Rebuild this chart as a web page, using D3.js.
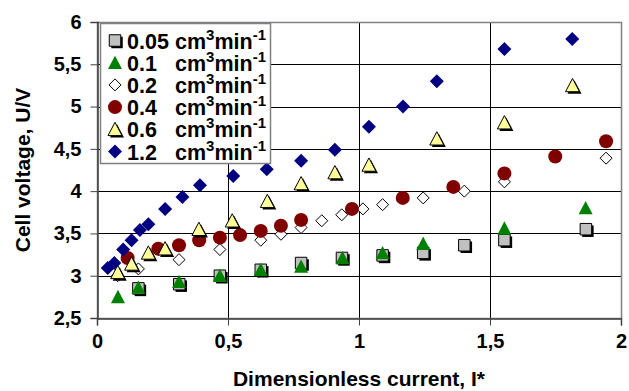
<!DOCTYPE html>
<html>
<head>
<meta charset="utf-8">
<script src="https://cdn.jsdelivr.net/npm/d3@7"></script>
<style>
  body { margin: 0; background: #fff; }
  svg { display: block; font-family: "Liberation Sans", Arial, sans-serif; font-weight: bold; }
</style>
</head>
<body>
<svg id="chart"></svg>
<script>
var W = 629, H = 391;
var margin = {top: 22, right: 8, bottom: 73, left: 97};
var w = W - margin.left - margin.right,
    h = H - margin.top - margin.bottom;

// data (I*, U/V)
var flowLabels = ["0.05", "0.1", "0.2", "0.4", "0.6", "1.2"];

var s005x = [0.158, 0.314, 0.469, 0.625, 0.779, 0.935, 1.090, 1.245, 1.402, 1.555, 1.866];
var s005y = [2.85, 2.90, 3.00, 3.07, 3.15, 3.21, 3.24, 3.27, 3.36, 3.42, 3.55];

var s01x = [0.080, 0.158, 0.313, 0.469, 0.625, 0.779, 0.937, 1.090, 1.245, 1.555, 1.865];
var s01y = [2.75, 2.86, 2.93, 3.00, 3.07, 3.11, 3.21, 3.27, 3.38, 3.56, 3.80];

var s02x = [0.079, 0.158, 0.313, 0.469, 0.625, 0.702, 0.779, 0.858, 0.934, 1.015, 1.090, 1.245, 1.402, 1.555, 1.943];
var s02y = [3.00, 3.08, 3.19, 3.31, 3.42, 3.49, 3.57, 3.65, 3.72, 3.79, 3.84, 3.92, 4.00, 4.11, 4.39];

var s04x = [0.117, 0.234, 0.313, 0.390, 0.469, 0.546, 0.625, 0.702, 0.779, 0.973, 1.167, 1.360, 1.555, 1.749, 1.943];
var s04y = [3.21, 3.32, 3.36, 3.42, 3.45, 3.48, 3.53, 3.59, 3.66, 3.79, 3.92, 4.05, 4.21, 4.41, 4.59];

var s06x = [0.079, 0.132, 0.196, 0.260, 0.389, 0.516, 0.650, 0.779, 0.908, 1.038, 1.297, 1.555, 1.815];
var s06y = [3.04, 3.14, 3.27, 3.32, 3.55, 3.65, 3.88, 4.09, 4.22, 4.31, 4.62, 4.81, 5.25];

var s12x = [0.041, 0.066, 0.100, 0.132, 0.164, 0.196, 0.260, 0.326, 0.393, 0.520, 0.648, 0.779, 0.908, 1.038, 1.168, 1.297, 1.555, 1.814];
var s12y = [3.09, 3.15, 3.31, 3.42, 3.54, 3.61, 3.79, 3.93, 4.07, 4.18, 4.26, 4.36, 4.49, 4.76, 5.00, 5.30, 5.68, 5.80];

var xTicks = [0, 0.5, 1, 1.5, 2];
var yTicks = [2.5, 3, 3.5, 4, 4.5, 5, 5.5, 6];

// marker shapes (path strings centred on 0,0)
function square(s) { return "M" + (-s/2) + "," + (-s/2) + "h" + s + "v" + s + "h" + (-s) + "Z"; }
function triangle(s) { return "M0," + (-s*0.5) + "L" + (s/2) + "," + (s*0.45) + "L" + (-s/2) + "," + (s*0.45) + "Z"; }
function diamond(s) { return "M0," + (-s/2) + "L" + (s/2) + ",0L0," + (s/2) + "L" + (-s/2) + ",0Z"; }
function circle(s) { var r = s/2; return "M" + (-r) + ",0A" + r + "," + r + " 0 1,1 " + r + ",0A" + r + "," + r + " 0 1,1 " + (-r) + ",0Z"; }

var series = [
  {label: flowLabels[0], xs: s005x, ys: s005y, path: square(11.5),  fill: "#c0c0c0", stroke: "#000", shadow: true},
  {label: flowLabels[1], xs: s01x,  ys: s01y,  path: triangle(14),  fill: "#008000", stroke: "none", shadow: false},
  {label: flowLabels[2], xs: s02x,  ys: s02y,  path: diamond(12),   fill: "#fff",    stroke: "#000", shadow: false},
  {label: flowLabels[3], xs: s04x,  ys: s04y,  path: circle(14),    fill: "#800000", stroke: "none", shadow: false},
  {label: flowLabels[4], xs: s06x,  ys: s06y,  path: triangle(14),  fill: "#ffff99", stroke: "#000", shadow: true},
  {label: flowLabels[5], xs: s12x,  ys: s12y,  path: diamond(14),   fill: "#000080", stroke: "none", shadow: false}
];

var svg = d3.select("#chart").attr("width", W).attr("height", H);
var g = svg.append("g").attr("transform", "translate(" + margin.left + "," + margin.top + ")");

var x = d3.scaleLinear().domain([0, 2]).range([0, w]);
var y = d3.scaleLinear().domain([2.5, 6]).range([h, 0]);

// gridlines
g.selectAll(".hgrid").data(yTicks.slice(1, -1)).enter().append("line")
  .attr("x1", 0).attr("x2", w)
  .attr("y1", function(d) { return Math.round(y(d)) + 0.5; })
  .attr("y2", function(d) { return Math.round(y(d)) + 0.5; })
  .attr("stroke", "#000").attr("stroke-width", 1);
g.selectAll(".vgrid").data(xTicks.slice(1, -1)).enter().append("line")
  .attr("y1", 0).attr("y2", h)
  .attr("x1", function(d) { return Math.round(x(d)) + 0.5; })
  .attr("x2", function(d) { return Math.round(x(d)) + 0.5; })
  .attr("stroke", "#000").attr("stroke-width", 1);

// plot border
g.append("rect").attr("x", 0.5).attr("y", 0.5).attr("width", w).attr("height", h)
  .attr("fill", "none").attr("stroke", "#808080").attr("stroke-width", 1.5);

// axes
var xAxis = g.append("g").attr("transform", "translate(0," + (h + 0.5) + ")")
  .call(d3.axisBottom(x).tickValues(xTicks).tickSize(7).tickPadding(8)
    .tickFormat(function(d) { return String(d).replace(".", ","); }));
var yAxis = g.append("g").attr("transform", "translate(0.5,0)")
  .call(d3.axisLeft(y).tickValues(yTicks).tickSize(7).tickPadding(9)
    .tickFormat(function(d) { return String(d).replace(".", ","); }));
[xAxis, yAxis].forEach(function(a) {
  a.select(".domain").attr("stroke", "#404040").attr("stroke-width", 1.5);
  a.selectAll(".tick line").attr("stroke", "#404040");
  a.selectAll("text").attr("font-size", 20).attr("font-weight", "bold")
    .attr("font-family", "'Liberation Sans', Arial, sans-serif").attr("fill", "#000");
});

// points
series.forEach(function(s) {
  var pts = s.xs.map(function(v, i) { return [v, s.ys[i]]; });
  var grp = g.append("g");
  if (s.shadow) {
    grp.selectAll(".sh").data(pts).enter().append("path")
      .attr("d", s.path).attr("fill", "#000")
      .attr("transform", function(d) { return "translate(" + (x(d[0]) + 2) + "," + (y(d[1]) + 2) + ")"; });
  }
  grp.selectAll(".pt").data(pts).enter().append("path")
    .attr("d", s.path).attr("fill", s.fill)
    .attr("stroke", s.stroke).attr("stroke-width", 1)
    .attr("transform", function(d) { return "translate(" + x(d[0]) + "," + y(d[1]) + ")"; });
});

// legend
var leg = svg.append("g").attr("transform", "translate(100,23)");
leg.append("rect").attr("x", 0.5).attr("y", 0.5).attr("width", 170).attr("height", 140)
  .attr("fill", "#fff").attr("stroke", "#808080").attr("stroke-width", 1.5);
series.forEach(function(s, i) {
  var cy = 17.5 + i * 22.2;
  if (s.shadow) leg.append("path").attr("d", s.path).attr("fill", "#000")
    .attr("transform", "translate(" + 17 + "," + (cy + 2) + ")");
  leg.append("path").attr("d", s.path).attr("fill", s.fill)
    .attr("stroke", s.stroke).attr("stroke-width", 1)
    .attr("transform", "translate(" + 15 + "," + cy + ")");
  leg.append("text").attr("x", 27).attr("y", cy + 8).attr("font-size", 21.5).text(s.label);
  var t = leg.append("text").attr("x", 75).attr("y", cy + 8).attr("font-size", 21.5);
  t.append("tspan").text("cm");
  t.append("tspan").attr("font-size", 15).attr("dy", -9).text("3");
  t.append("tspan").attr("dy", 9).text("min");
  t.append("tspan").attr("font-size", 15).attr("dy", -9).text("-1");
});

// axis titles
svg.append("text").attr("x", margin.left + w / 2).attr("y", 386)
  .attr("text-anchor", "middle").attr("font-size", 21).text("Dimensionless current, I*");
svg.append("text").attr("transform", "translate(30," + (margin.top + h / 2) + ") rotate(-90)")
  .attr("text-anchor", "middle").attr("font-size", 21).text("Cell voltage, U/V");
</script>
</body>
</html>
